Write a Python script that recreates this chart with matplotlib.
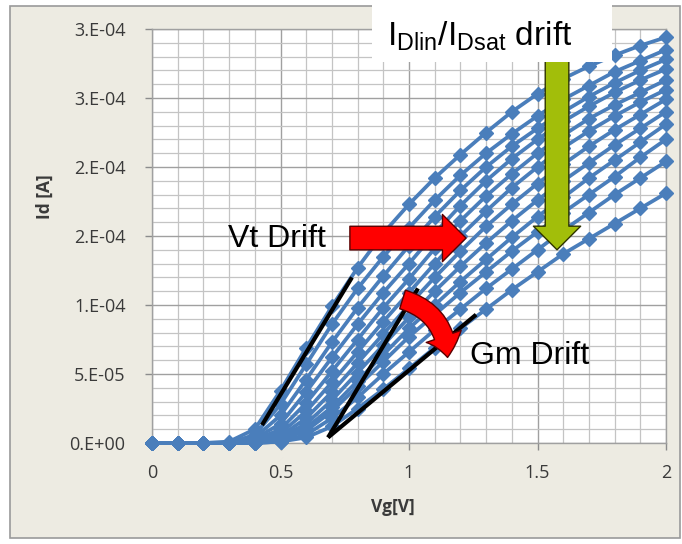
import numpy as np
import matplotlib.pyplot as plt
from matplotlib.patches import Rectangle, FancyArrowPatch

# gate voltage sweep [V]
vg = [0.0, 0.1, 0.2, 0.3, 0.4, 0.5, 0.6, 0.7, 0.8, 0.9, 1.0,
      1.1, 1.2, 1.3, 1.4, 1.5, 1.6, 1.7, 1.8, 1.9, 2.0]

# drain current per stress step, in units of 1e-5 A
id_0 = [0, 0, 0, 0.1, 1.0, 3.8, 6.9, 9.9, 12.7, 15.2, 17.3, 19.2, 20.9, 22.5, 24.0, 25.3, 26.4, 27.3, 28.1, 28.8, 29.4]
id_1 = [0, 0, 0, 0, 0.6, 2.8, 5.7, 8.6, 11.2, 13.5, 15.6, 17.6, 19.4, 21.0, 22.4, 23.7, 24.9, 25.9, 26.9, 27.7, 28.5]
id_2 = [0, 0, 0, 0, 0.4, 2.0, 4.6, 7.3, 9.8, 12.1, 14.3, 16.4, 18.3, 20.0, 21.5, 22.8, 24.0, 25.1, 26.1, 27.0, 27.8]
id_3 = [0, 0, 0, 0, 0.3, 1.4, 3.7, 6.2, 8.6, 10.9, 13.0, 15.2, 17.2, 19.0, 20.6, 22.0, 23.3, 24.4, 25.4, 26.3, 27.1]
id_4 = [0, 0, 0, 0, 0.2, 1.0, 2.9, 5.2, 7.5, 9.8, 11.9, 14.1, 16.1, 17.9, 19.5, 21.0, 22.3, 23.5, 24.5, 25.4, 26.3]
id_5 = [0, 0, 0, 0, 0.1, 0.7, 2.3, 4.4, 6.6, 8.8, 10.9, 13.0, 15.0, 16.8, 18.5, 20.0, 21.4, 22.6, 23.7, 24.7, 25.6]
id_6 = [0, 0, 0, 0, 0.1, 0.5, 1.8, 3.7, 5.8, 7.9, 10.0, 12.0, 13.9, 15.7, 17.3, 18.8, 20.2, 21.5, 22.7, 23.8, 24.9]
id_7 = [0, 0, 0, 0, 0.1, 0.4, 1.4, 3.1, 5.1, 7.1, 9.1, 11.0, 12.8, 14.5, 16.1, 17.6, 19.0, 20.3, 21.6, 22.8, 24.0]
id_8 = [0, 0, 0, 0, 0.0, 0.3, 1.1, 2.6, 4.5, 6.4, 8.3, 10.0, 11.7, 13.3, 14.9, 16.4, 17.8, 19.2, 20.5, 21.8, 23.1]
id_9 = [0, 0, 0, 0, 0.0, 0.2, 0.9, 2.3, 4.1, 5.9, 7.7, 9.3, 10.9, 12.4, 13.9, 15.3, 16.7, 18.0, 19.3, 20.7, 22.0]
id_10 = [0, 0, 0, 0, 0.0, 0.1, 0.6, 1.8, 3.3, 5.0, 6.6, 8.2, 9.7, 11.2, 12.6, 14.0, 15.4, 16.7, 18.0, 19.2, 20.4]
id_11 = [0, 0, 0, 0, 0.0, 0.1, 0.4, 1.2, 2.5, 3.9, 5.4, 6.9, 8.3, 9.7, 11.1, 12.4, 13.7, 14.8, 15.9, 17.0, 18.1]
curves = [id_0, id_1, id_2, id_3, id_4, id_5, id_6, id_7, id_8, id_9, id_10, id_11]

# tangent lines drawn by hand on the plot (Vg, Id/1e-5)
tangent_vt = [(0.428, 1.3), (0.778, 12.0)]
tangent_gm_hi = [(0.685, 0.4), (1.035, 11.2)]
tangent_gm_lo = [(0.685, 0.4), (1.261, 9.3)]

y_ticks = [0, 5e-5, 1e-4, 1.5e-4, 2e-4, 2.5e-4, 3e-4]
y_labels = ['0.E+00', '5.E-05', '1.E-04', '2.E-04', '2.E-04', '3.E-04', '3.E-04']
x_ticks = [0, 0.5, 1, 1.5, 2]
x_labels = ['0', '0.5', '1', '1.5', '2']

plt.rcParams['mathtext.fontset'] = 'custom'
plt.rcParams['mathtext.rm'] = 'Liberation Sans'

fig = plt.figure(figsize=(6.82, 5.44), dpi=100, facecolor='white')
# chart area frame
fig.patches.append(Rectangle((10 / 682, 6 / 544), 670 / 682, 532 / 544,
                             transform=fig.transFigure, facecolor='#EDEBE2',
                             edgecolor='#9A9A9A', lw=1.2, zorder=-10))

ax = fig.add_axes([152 / 682, 1 - 443 / 544, 514 / 682, 414 / 544])
ax.set_facecolor('white')

blue = '#4A7EBB'
for c in curves:
    ax.plot(vg, np.array(c) * 1e-5, color=blue, lw=2.7, marker='D', ms=7,
            mec=blue, mfc=blue, clip_on=False, zorder=3)

for seg in (tangent_vt, tangent_gm_hi, tangent_gm_lo):
    xs = [p[0] for p in seg]
    ys = [p[1] * 1e-5 for p in seg]
    ax.plot(xs, ys, color='black', lw=3.0, solid_capstyle='butt', zorder=4)

ax.set_xlim(0, 2)
ax.set_ylim(0, 3e-4)
ax.set_xticks(x_ticks)
ax.set_xticklabels(x_labels)
ax.set_yticks(y_ticks)
ax.set_yticklabels(y_labels)
ax.set_xticks(np.arange(0, 2.01, 0.1), minor=True)
ax.set_yticks(np.arange(0, 3.01e-4, 1e-5), minor=True)
ax.grid(which='major', color='#A0A0A0', lw=1.0)
ax.grid(which='minor', color='#C4C4C4', lw=0.9)
ax.tick_params(which='minor', length=0)
ax.tick_params(which='major', length=5, color='#8C8C8C', width=1.0,
               labelsize=13, labelcolor='#3A3A3A')
ax.tick_params(axis='y', pad=14)
ax.tick_params(axis='x', pad=10)
for lab in ax.get_xticklabels() + ax.get_yticklabels():
    lab.set_family('Open Sans')
for s in ax.spines.values():
    s.set_color('#A0A0A0')
    s.set_linewidth(1.0)
ax.set_axisbelow(True)

ax.set_xlabel('Vg[V]', fontsize=12.5, fontweight='bold', family='Open Sans',
              color='#3A3A3A')
ax.xaxis.set_label_coords((393 - 152) / 514, -(498 - 443) / 414)
ax.set_ylabel('Id [A]', fontsize=12.5, fontweight='bold', family='Open Sans',
              color='#3A3A3A')
ax.yaxis.set_label_coords(-(152 - 54) / 514, (443 - 197) / 414)

# annotations
ax.text(0.296, 14.8e-5, 'Vt Drift', fontsize=23, family='Liberation Sans',
        va='center', ha='left', zorder=6)
ax.text(1.237, 6.3e-5, 'Gm Drift', fontsize=23, family='Liberation Sans',
        va='center', ha='left', zorder=6)

ax.annotate('', xy=(1.222, 14.85e-5), xytext=(0.77, 14.85e-5),
            arrowprops=dict(arrowstyle='simple,head_length=1.0,head_width=2.0,tail_width=1.0',
                            mutation_scale=17, fc='#FF0000', ec='#5A0000', lw=1,
                            shrinkA=0, shrinkB=0), zorder=5)
ax.annotate('', xy=(1.576, 14.0e-5), xytext=(1.576, 28.5e-5),
            arrowprops=dict(arrowstyle='simple,head_length=1.0,head_width=2.0,tail_width=1.0',
                            mutation_scale=17, fc='#A2BE0A', ec='#2E3300', lw=1,
                            shrinkA=0, shrinkB=0), zorder=5)
gm_arrow = FancyArrowPatch((0.975, 10.4e-5), (1.15, 6.2e-5),
                           connectionstyle='arc3,rad=-0.35',
                           arrowstyle='simple,head_length=1.1,head_width=1.9,tail_width=1.0',
                           mutation_scale=14, fc='#FF0000', ec='#5A0000', lw=1,
                           shrinkA=0, shrinkB=0, zorder=5)
ax.add_patch(gm_arrow)

# white label box over the top of the chart
fig.patches.append(Rectangle((372 / 682, 1 - 62 / 544), 240 / 682, 59 / 544,
                             transform=fig.transFigure, facecolor='white',
                             edgecolor='none', zorder=10))
fig.text(480 / 682, 1 - 36 / 544, r'I$_{\rm Dlin}$/I$_{\rm Dsat}$ drift',
         fontsize=24, family='Liberation Sans', ha='center', va='center',
         zorder=11)

fig.savefig('out.png', dpi=100, facecolor='white')
